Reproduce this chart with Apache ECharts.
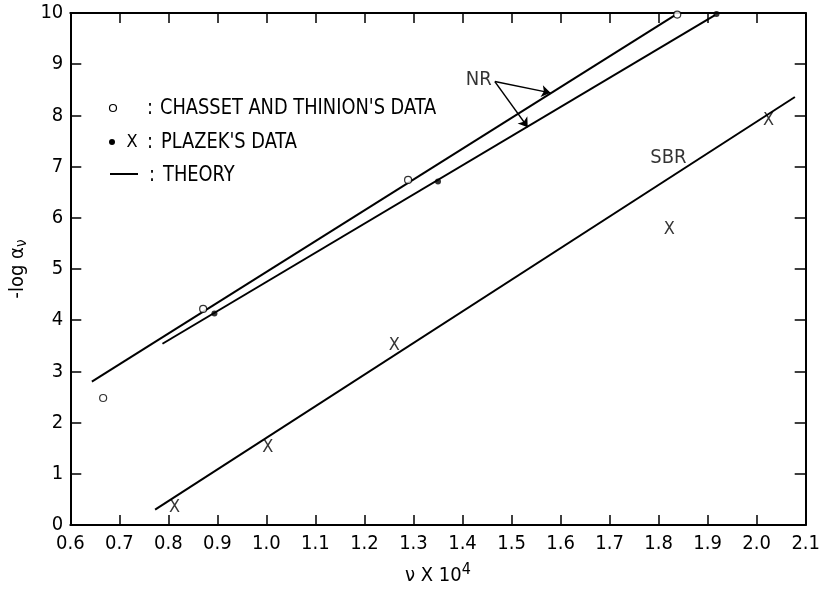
<!DOCTYPE html>
<html>
<head>
<meta charset="utf-8">
<script src="https://cdn.jsdelivr.net/npm/echarts@6/dist/echarts.min.js"></script>
<style>
html,body{margin:0;padding:0;background:#fff;}
#chart{width:823px;height:591px;}
</style>
</head>
<body>
<div id="chart"></div>
<script>
// ---- data ----
const xTickLabels = ['0.6','0.7','0.8','0.9','1.0','1.1','1.2','1.3','1.4','1.5','1.6','1.7','1.8','1.9','2.0','2.1'];
const yTickLabels = ['0','1','2','3','4','5','6','7','8','9','10'];

// Chasset and Thinion's data (open circles)
const chassetX = [0.667, 0.871, 1.289, 1.838];
const chassetY = [2.48, 4.22, 6.74, 9.97];
// Plazek's data, NR (filled dots)
const plazekNRX = [0.894, 1.350, 1.918];
const plazekNRY = [4.13, 6.71, 9.98];
// Plazek's data, SBR (x marks)
const plazekSBRX = [0.8125, 1.003, 1.261, 1.822, 2.024];
const plazekSBRY = [0.35, 1.51, 3.51, 5.77, 7.90];
// Theory lines (end points)
const theoryNR1X = [0.644, 1.832];
const theoryNR1Y = [2.80, 9.95];
const theoryNR2X = [0.788, 1.915];
const theoryNR2Y = [3.54, 9.96];
const theorySBRX = [0.773, 2.078];
const theorySBRY = [0.30, 8.36];
// Annotations
const nrLabel = [1.433, 8.69];
const nrArrowStart = [1.466, 8.66];
const nrArrowEnds = [[1.5795, 8.44], [1.533, 7.77]];
const sbrLabel = [1.820, 7.18];

const FONT = '"DejaVu Sans Condensed", "Liberation Sans Narrow", "DejaVu Sans", sans-serif';

function zip(xs, ys){ return xs.map((x,i)=>[x, ys[i]]); }

const chart = echarts.init(document.getElementById('chart'), null, {renderer:'canvas'});

const axisLineStyle = {color:'#000', width:2};
const tickStyle = {color:'#000', width:1.5};

function legendText(x, y, txt){
  return {type:'text', x:x, y:y, scaleX:0.9,
    style:{text:txt, font:'22px '+FONT, fill:'#000', textVerticalAlign:'middle'}};
}

const option = {
  animation:false,
  backgroundColor:'#fff',
  textStyle:{fontFamily:FONT, color:'#000'},
  grid:{left:60, right:10, top:13, bottom:65, containLabel:false},
  xAxis:[
    {
      type:'value', min:0.6, max:2.1, interval:0.1, position:'bottom',
      axisLine:{show:true, onZero:false, lineStyle:axisLineStyle},
      axisTick:{show:true, inside:true, length:10, lineStyle:tickStyle},
      splitLine:{show:false},
      axisLabel:{
        show:true, margin:9, fontSize:20, fontFamily:FONT, color:'#000',
        formatter:function(v){ const i=Math.round((v-0.6)*10); return xTickLabels[i]||''; },
        showMinLabel:true, showMaxLabel:true
      },
      name:'ν X 10{sup|4}',
      nameLocation:'middle', nameGap:37,
      nameTextStyle:{fontSize:20, fontFamily:FONT, color:'#000',
        rich:{sup:{fontSize:16, fontFamily:FONT, color:'#000', padding:[0,0,12,0]}}}
    },
    {
      type:'value', min:0.6, max:2.1, interval:0.1, position:'top',
      axisLine:{show:true, onZero:false, lineStyle:axisLineStyle},
      axisTick:{show:true, inside:true, length:10, lineStyle:tickStyle},
      splitLine:{show:false}, axisLabel:{show:false}
    }
  ],
  yAxis:[
    {
      type:'value', min:0, max:10, interval:1, position:'left',
      axisLine:{show:true, onZero:false, lineStyle:axisLineStyle},
      axisTick:{show:true, inside:true, length:11, lineStyle:tickStyle},
      splitLine:{show:false},
      axisLabel:{
        show:true, margin:7, fontSize:20, fontFamily:FONT, color:'#000',
        formatter:function(v){ return yTickLabels[Math.round(v)]; },
        showMinLabel:true, showMaxLabel:true
      },
      name:'-log α{sub|ν}',
      nameLocation:'middle', nameGap:32, nameRotate:90,
      nameTextStyle:{fontSize:20, fontFamily:FONT, color:'#000',
        rich:{sub:{fontSize:15, fontFamily:FONT, color:'#000', padding:[8,0,0,0]}}}
    },
    {
      type:'value', min:0, max:10, interval:1, position:'right',
      axisLine:{show:true, onZero:false, lineStyle:axisLineStyle},
      axisTick:{show:true, inside:true, length:11, lineStyle:tickStyle},
      splitLine:{show:false}, axisLabel:{show:false}
    }
  ],
  series:[
    {type:'line', data:zip(theoryNR1X, theoryNR1Y), showSymbol:false, symbol:'none',
     lineStyle:{color:'#000', width:2}, silent:true},
    {type:'line', data:zip(theoryNR2X, theoryNR2Y), showSymbol:false, symbol:'none',
     lineStyle:{color:'#000', width:2}, silent:true},
    {type:'line', data:zip(theorySBRX, theorySBRY), showSymbol:false, symbol:'none',
     lineStyle:{color:'#000', width:2}, silent:true},
    {type:'scatter', data:zip(chassetX, chassetY), symbol:'circle', symbolSize:7,
     itemStyle:{color:'#fff', borderColor:'#000', borderWidth:1.2}, z:5},
    {type:'scatter', data:zip(plazekNRX, plazekNRY), symbol:'circle', symbolSize:6,
     itemStyle:{color:'#000'}, z:5},
    {type:'scatter', data:zip(plazekSBRX, plazekSBRY), symbol:'circle', symbolSize:1,
     itemStyle:{color:'rgba(0,0,0,0)'},
     label:{show:true, position:'inside', formatter:'X', fontSize:18, fontFamily:FONT, color:'#000'}, z:5},
    {type:'lines', coordinateSystem:'cartesian2d', polyline:false,
     data:nrArrowEnds.map(e=>({coords:[nrArrowStart, e]})),
     symbol:['none','arrow'], symbolSize:9,
     lineStyle:{color:'#000', width:1.5, opacity:1}, z:6},
    {type:'scatter', data:[nrLabel], symbol:'circle', symbolSize:1,
     itemStyle:{color:'rgba(0,0,0,0)'},
     label:{show:true, position:'inside', formatter:'NR', fontSize:20, fontFamily:FONT, color:'#000'}},
    {type:'scatter', data:[sbrLabel], symbol:'circle', symbolSize:1,
     itemStyle:{color:'rgba(0,0,0,0)'},
     label:{show:true, position:'inside', formatter:'SBR', fontSize:20, fontFamily:FONT, color:'#000'}}
  ],
  graphic:[
    {type:'circle', shape:{cx:113, cy:108, r:3.5}, style:{fill:'#fff', stroke:'#000', lineWidth:1.2}},
    {type:'circle', shape:{cx:112, cy:142, r:3}, style:{fill:'#000'}},
    {type:'text', x:132, y:142, style:{text:'X', font:'18px '+FONT, fill:'#000', textAlign:'center', textVerticalAlign:'middle'}},
    {type:'line', shape:{x1:110, y1:174, x2:138, y2:174}, style:{stroke:'#000', lineWidth:2}},
    legendText(147, 108, ':'),
    legendText(147, 142, ':'),
    legendText(149, 175, ':'),
    legendText(160, 108, "CHASSET AND THINION'S DATA"),
    legendText(161, 142, "PLAZEK'S DATA"),
    legendText(163, 175, 'THEORY')
  ]
};
chart.setOption(option);
</script>
</body>
</html>
